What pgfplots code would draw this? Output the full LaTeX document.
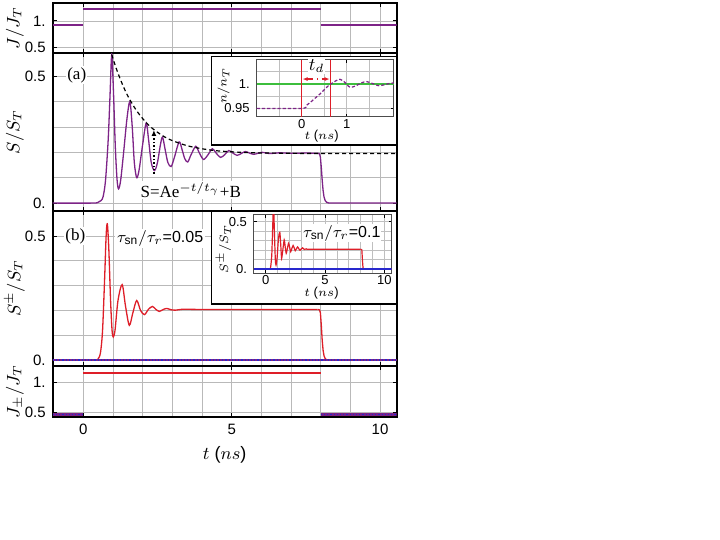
\documentclass[border=0pt]{standalone}
\usepackage{fontspec}
\setmainfont{Liberation Sans}
\newfontfamily\serif{Liberation Serif}
\usepackage{pgfplots}
\pgfplotsset{compat=1.18}
\usetikzlibrary{arrows.meta}

\definecolor{mpurple}{RGB}{125,35,135}
\definecolor{mred}{RGB}{222,30,40}
\definecolor{mblue}{RGB}{40,40,205}
\definecolor{mgreen}{RGB}{60,190,60}

\pgfplotsset{
  panel/.style={
    scale only axis, width=172pt,
    xmin=-1.03, xmax=10.56,
    axis line style={line width=0.9pt},
    tick style={black, line width=0.5pt},
    major tick length=2pt, minor tick length=0pt,
    grid=both,
    grid style={gray!55, line width=0.4pt},
    minor grid style={gray!55, line width=0.4pt},
    xtick={0,5,10}, minor xtick={1,2,3,4,6,7,8,9},
    tick label style={font=\fontsize{7.5}{8}\selectfont},
    label style={font=\fontsize{9}{10}\selectfont},
    ylabel style={at={(axis description cs:-0.11,0.5)}, anchor=center},
  },
  inset/.style={
    scale only axis,
    axis line style={line width=0.5pt, black!70},
    tick style={black, line width=0.4pt},
    major tick length=1.5pt, minor tick length=0pt,
    grid=both,
    grid style={gray!50, line width=0.35pt},
    minor grid style={gray!50, line width=0.35pt},
    tick label style={font=\fontsize{6.5}{7}\selectfont},
    xticklabel style={inner sep=1pt},
    label style={font=\fontsize{6.5}{7}\selectfont},
  },
}

\begin{document}
\begin{tikzpicture}
\useasboundingbox (0,0) rectangle (360pt,-270pt);

% ---- top: J/J_T
\begin{axis}[panel, at={(26.35pt,-1.65pt)}, anchor=north west, height=25pt,
  ymin=0.395, ymax=1.331, ytick={0.5,1}, yticklabels={0.5,1.},
  xticklabels={}, ylabel={$J/J_T$}]
\addplot[mpurple, line width=0.75pt] coordinates {(-1.03,0.92) (0,0.92)};
\addplot[mpurple, line width=0.75pt] coordinates {(0,1.225) (8,1.225)};
\addplot[mpurple, line width=0.75pt] coordinates {(8,0.92) (10.56,0.92)};
\end{axis}

% ---- (a) S/S_T
\begin{axis}[panel, at={(26.35pt,-26.65pt)}, anchor=north west, height=78.7pt,
  ymin=-0.03, ymax=0.59, ytick={0,0.5}, yticklabels={0.,0.5},
  minor ytick={0.1,0.2,0.3,0.4},
  xticklabels={}, ylabel={$S/S_T$}]
\addplot[mpurple, line width=0.65pt, smooth, tension=0.5] coordinates {
 (-1.03,0) (0.3,0) (0.5,0.003) (0.6,0.01) (0.67,0.026) (0.75,0.09) (0.84,0.25)
 (0.9,0.42) (0.96,0.585) (1.02,0.43) (1.08,0.22) (1.14,0.09) (1.19,0.056)
 (1.26,0.09) (1.36,0.2) (1.47,0.33) (1.57,0.40) (1.65,0.3) (1.72,0.16) (1.8,0.1)
 (1.88,0.13) (2.0,0.23) (2.12,0.315) (2.2,0.25) (2.29,0.16) (2.4,0.128)
 (2.5,0.16) (2.6,0.23) (2.67,0.26) (2.76,0.21) (2.85,0.16) (2.96,0.144)
 (3.07,0.18) (3.23,0.241) (3.33,0.21) (3.42,0.175) (3.52,0.162) (3.63,0.19)
 (3.79,0.224) (3.9,0.2) (4.05,0.172) (4.2,0.19) (4.35,0.214) (4.47,0.198)
 (4.62,0.18) (4.76,0.19) (4.9,0.207) (5.03,0.198) (5.18,0.188) (5.32,0.195)
 (5.46,0.203) (5.6,0.197) (5.74,0.192) (5.88,0.196) (6.02,0.2) (6.3,0.195)
 (6.6,0.198) (7.0,0.196) (7.5,0.197) (7.9,0.196)};
\addplot[mpurple, line width=0.65pt] coordinates {
 (7.9,0.196) (7.96,0.194) (7.99,0.18) (8.02,0.14) (8.05,0.09) (8.08,0.05)
 (8.11,0.025) (8.15,0.01) (8.2,0.003) (8.28,0) (10.56,0)};
\addplot[black, dash pattern=on 2pt off 1.5pt, line width=0.6pt, smooth] coordinates {
 (0.96,0.585) (1.1,0.534) (1.3,0.473) (1.5,0.422) (1.75,0.372) (2.0,0.333)
 (2.25,0.302) (2.5,0.279) (2.75,0.260) (3.0,0.246) (3.5,0.226) (4.0,0.214)
 (4.5,0.206) (5.0,0.202) (5.5,0.199) (6.0,0.1975) (7.0,0.196) (8.0,0.195)
 (10.56,0.195)};
\draw[black, densely dotted, line width=0.7pt, -{Latex[length=3pt,width=2.5pt]}]
  (axis cs:2.38,0.115) -- (axis cs:2.38,0.288);
\node[fill=white, inner sep=0.8pt, font=\fontsize{8.5}{9}\selectfont\serif]
  at (axis cs:3.62,0.052) {S=Ae$^{-t/t_\gamma}$+B};
\node[fill=white, inner sep=0.5pt, font=\fontsize{8.5}{9}\selectfont\serif]
  at (axis cs:-0.22,0.504) {(a)};
\end{axis}

% ---- (b) S+-/S_T
\begin{axis}[panel, at={(26.35pt,-105.35pt)}, anchor=north west, height=77.65pt,
  ymin=-0.024, ymax=0.602, ytick={0,0.5}, yticklabels={0.,0.5},
  minor ytick={0.1,0.2,0.3,0.4},
  xticklabels={}, ylabel={$S^{\pm}/S_T$}]
\addplot[mred, line width=0.65pt, smooth, tension=0.5] coordinates {
 (-1.03,0) (0.4,0) (0.5,0.005) (0.58,0.03) (0.65,0.12) (0.72,0.33) (0.77,0.5)
 (0.81,0.549) (0.86,0.45) (0.92,0.24) (0.97,0.12) (1.01,0.093) (1.07,0.12)
 (1.17,0.24) (1.31,0.304) (1.42,0.22) (1.55,0.14) (1.67,0.19) (1.8,0.24)
 (1.93,0.2) (2.06,0.183) (2.2,0.205) (2.33,0.216) (2.45,0.204) (2.56,0.196)
 (2.68,0.203) (2.81,0.208) (2.95,0.203) (3.1,0.201) (3.4,0.205) (4,0.204)
 (7.9,0.204)};
\addplot[mred, line width=0.65pt] coordinates {
 (7.9,0.204) (7.96,0.202) (7.99,0.19) (8.02,0.14) (8.05,0.08) (8.08,0.04)
 (8.11,0.018) (8.15,0.006) (8.2,0.001) (8.28,0) (10.56,0)};
\addplot[mpurple, line width=0.6pt] coordinates {(-1.03,0) (10.56,0)};
\addplot[mblue, densely dotted, line width=0.6pt] coordinates {(-1.03,0) (10.56,0)};
\node[fill=white, inner sep=0.5pt, font=\fontsize{8.5}{9}\selectfont\serif]
  at (axis cs:-0.27,0.50) {(b)};
\node[fill=white, inner sep=0.8pt, font=\fontsize{8}{9}\selectfont]
  at (axis cs:2.59,0.49) {$\tau_{\mathrm{sn}}/\tau_r$=0.05};
\end{axis}

% ---- bottom: J+-/J_T
\begin{axis}[panel, at={(26.35pt,-183pt)}, anchor=north west, height=25.65pt,
  ymin=0.423, ymax=1.278, ytick={0.5,1}, yticklabels={0.5,1.},
  xticklabels={0,5,10}, ylabel={$J_{\pm}/J_T$},
  xlabel={$t$ ($ns$)},
  xlabel style={at={(axis description cs:0.5,-0.735)}, anchor=center}]
\addplot[color=mred, draw=mred, line width=0.9pt] coordinates {(0,1.155) (8,1.155)};
\addplot[mpurple, line width=1.4pt] coordinates {(-1.03,0.47) (0,0.47)};
\addplot[mpurple, line width=1.4pt] coordinates {(8,0.47) (10.56,0.47)};
\addplot[mblue, densely dotted, line width=0.6pt] coordinates {(-1.03,0.47) (0,0.47)};
\addplot[mblue, densely dotted, line width=0.6pt] coordinates {(8,0.47) (10.56,0.47)};
\end{axis}

% ---- inset (a)
\draw[fill=white, line width=0.7pt] (105.85pt,-28.35pt) rectangle (198.35pt,-72.5pt);
\begin{axis}[inset, at={(128.35pt,-30pt)}, anchor=north west,
  width=68.65pt, height=28.35pt,
  xmin=-1, xmax=2.05, ymin=0.933, ymax=1.049,
  xtick={0,1}, xticklabels={0,1}, minor xtick={-0.5,0.5,1.5},
  ytick={0.95,1}, yticklabels={0.95,1.}, minor ytick={0.975,1.025},
  xlabel={$t$ ($ns$)}, ylabel={$n/n_T$},
  xlabel style={at={(axis description cs:0.473,-0.34)}, anchor=center},
  ylabel style={at={(axis description cs:-0.24,0.55)}, anchor=center}]
\addplot[mgreen, line width=0.6pt] coordinates {(-1,1) (2.05,1)};
\addplot[mred, line width=0.7pt] coordinates {(0,0.933) (0,1.049)};
\addplot[mred, line width=0.7pt] coordinates {(0.64,0.933) (0.64,1.049)};
\addplot[mpurple, dash pattern=on 1.6pt off 1pt, line width=0.6pt, smooth, tension=0.5] coordinates {
 (-1,0.95) (0,0.95) (0.1,0.956) (0.2,0.963) (0.3,0.971) (0.4,0.979) (0.5,0.988)
 (0.6,0.997) (0.65,1.0) (0.75,1.006) (0.85,1.0095) (0.95,1.004) (1.07,0.9935)
 (1.2,0.996) (1.32,1.002) (1.44,1.0048) (1.57,1.001) (1.7,0.9965) (1.82,0.998)
 (1.95,1.001) (2.05,1.002)};
\draw[mred, dash dot, line width=0.6pt, {Latex[length=2.5pt,width=2pt]}-{Latex[length=2.5pt,width=2pt]}]
  (axis cs:0.02,1.01) -- (axis cs:0.62,1.01);
\node[fill=white, inner sep=0.3pt, font=\fontsize{9}{10}\selectfont]
  at (axis cs:0.33,1.036) {$t_d$};
\end{axis}

% ---- inset (b)
\draw[fill=white, line width=0.7pt] (105.85pt,-105.5pt) rectangle (198.35pt,-152pt);
\begin{axis}[inset, at={(127pt,-107.5pt)}, anchor=north west,
  width=68.85pt, height=29.15pt,
  xmin=-1, xmax=10.62, ymin=-0.042, ymax=0.57,
  xtick={0,5,10}, xticklabels={0,5,10}, minor xtick={1,2,3,4,6,7,8,9},
  ytick={0,0.5}, yticklabels={0.,0.5}, minor ytick={0.1,0.2,0.3,0.4},
  xlabel={$t$ ($ns$)}, ylabel={$S^{\pm}/S_T$},
  xlabel style={at={(axis description cs:0.49,-0.34)}, anchor=center},
  ylabel style={at={(axis description cs:-0.22,0.42)}, anchor=center}]
\addplot[mred, line width=0.6pt, smooth, tension=0.4] coordinates {
 (-1,0) (0.3,0) (0.4,0.02) (0.5,0.15) (0.58,0.45) (0.65,0.68) (0.72,0.4)
 (0.8,0.1) (0.86,0.045) (0.95,0.12) (1.07,0.33) (1.18,0.389) (1.26,0.25)
 (1.33,0.115) (1.43,0.2) (1.55,0.308) (1.63,0.24) (1.72,0.168) (1.82,0.22)
 (1.92,0.273) (2.01,0.23) (2.1,0.185) (2.2,0.22) (2.3,0.25) (2.39,0.225)
 (2.48,0.195) (2.58,0.215) (2.68,0.235) (2.78,0.215) (2.88,0.2) (3.0,0.215)
 (3.1,0.225) (3.25,0.208) (3.45,0.216) (3.7,0.21) (8.0,0.21)};
\addplot[mred, line width=0.6pt] coordinates {
 (8.0,0.21) (8.1,0.205) (8.15,0.1) (8.2,0.015) (8.26,0) (10.62,0)};
\addplot[mblue, line width=0.8pt] coordinates {(-1,0) (10.62,0)};
\node[fill=white, inner sep=0.5pt, font=\fontsize{8}{9}\selectfont]
  at (axis cs:6.41,0.378) {$\tau_{\mathrm{sn}}/\tau_r$=0.1};
\end{axis}
\end{tikzpicture}
\end{document}
